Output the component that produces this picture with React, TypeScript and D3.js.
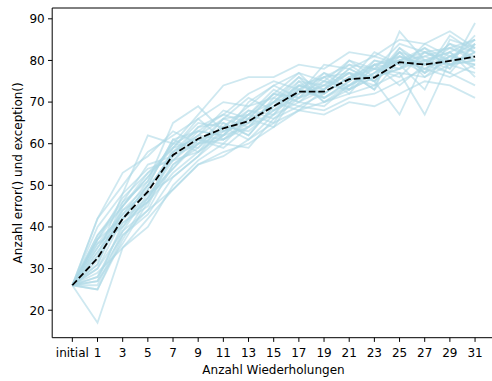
import React from "react";
import * as d3 from "d3";

const categories = ["initial", "1", "3", "5", "7", "9", "11", "13", "15", "17", "19", "21", "23", "25", "27", "29", "31"];

const meanValues = [26, 32.5, 42, 48.5, 57.3, 61.2, 63.7, 65.4, 69, 72.5, 72.5, 75.5, 75.9, 79.6, 79, 79.9, 80.9];

const runs: number[][] = [
  [26, 42, 50, 58, 62, 66, 70, 69, 74, 77, 75, 80, 78, 84, 82, 83, 85],
  [26, 17, 35, 42, 49, 55, 58, 60, 64, 68, 70, 72, 74, 77, 76, 79, 80],
  [26, 38, 45, 52, 60, 63, 62, 67, 70, 74, 72, 76, 79, 80, 78, 81, 83],
  [26, 25, 38, 44, 55, 59, 64, 63, 68, 71, 74, 73, 76, 78, 80, 79, 82],
  [26, 30, 42, 47, 57, 60, 61, 66, 72, 70, 73, 78, 75, 82, 77, 80, 79],
  [26, 35, 44, 50, 56, 62, 66, 64, 67, 73, 71, 75, 80, 79, 83, 78, 84],
  [26, 27, 36, 46, 53, 58, 63, 65, 70, 75, 70, 74, 77, 81, 79, 84, 80],
  [26, 37, 47, 53, 59, 61, 60, 66, 72, 71, 76, 77, 73, 87, 80, 82, 78],
  [26, 28, 40, 49, 58, 64, 65, 62, 69, 72, 74, 79, 78, 76, 82, 80, 86],
  [26, 42, 53, 57, 63, 60, 64, 69, 71, 76, 73, 77, 75, 80, 77, 86, 82],
  [26, 26, 39, 48, 52, 57, 62, 68, 66, 71, 77, 73, 80, 78, 84, 81, 80],
  [26, 33, 41, 45, 58, 62, 61, 64, 68, 74, 72, 76, 74, 83, 79, 77, 84],
  [26, 36, 43, 51, 60, 59, 66, 67, 73, 70, 75, 74, 78, 80, 81, 83, 81],
  [26, 29, 35, 40, 50, 56, 60, 59, 66, 69, 68, 71, 72, 75, 78, 76, 79],
  [26, 38, 46, 55, 57, 64, 67, 65, 70, 72, 79, 78, 81, 79, 73, 85, 83],
  [26, 31, 44, 48, 54, 61, 63, 66, 64, 73, 71, 74, 77, 82, 80, 78, 89],
  [26, 34, 42, 50, 61, 63, 62, 70, 74, 71, 73, 80, 76, 78, 82, 79, 77],
  [26, 25, 37, 47, 56, 58, 65, 62, 69, 73, 76, 72, 79, 74, 79, 84, 82],
  [26, 37, 45, 52, 59, 65, 64, 68, 67, 75, 74, 77, 73, 80, 83, 80, 85],
  [26, 30, 39, 44, 49, 55, 57, 61, 65, 68, 67, 70, 69, 72, 75, 74, 71],
  [26, 40, 48, 62, 60, 67, 74, 76, 76, 79, 78, 82, 81, 85, 84, 87, 83],
  [26, 27, 41, 46, 55, 60, 62, 64, 71, 69, 72, 76, 78, 77, 67, 80, 81],
  [26, 35, 43, 49, 58, 62, 68, 66, 69, 74, 73, 78, 75, 67, 80, 82, 76],
  [26, 32, 46, 51, 65, 69, 63, 67, 72, 77, 71, 75, 79, 81, 78, 81, 84],
  [26, 36, 40, 47, 54, 60, 66, 71, 68, 72, 75, 73, 77, 80, 82, 79, 80],
  [26, 33, 48, 54, 56, 61, 59, 64, 70, 68, 73, 77, 76, 82, 76, 81, 79],
  [26, 28, 38, 43, 52, 57, 64, 61, 67, 70, 69, 74, 79, 78, 81, 79, 82],
  [26, 37, 42, 50, 61, 58, 62, 67, 65, 74, 76, 79, 75, 81, 79, 83, 80],
  [26, 31, 45, 53, 57, 63, 67, 72, 75, 73, 77, 75, 82, 79, 80, 77, 74],
  [26, 34, 42, 46, 59, 66, 61, 65, 70, 76, 70, 73, 76, 83, 77, 82, 85],
];

const yTicks = [20, 30, 40, 50, 60, 70, 80, 90];

const W = 492;
const H = 381;
const left = 52.2;
const top = 8;
const bottom = 337.7;
const step = 25.17;
const right = left + 17.6 * step;

const font = "'DejaVu Sans', sans-serif";

export default function App() {
  const x = d3.scaleLinear().domain([-0.8, categories.length - 1 + 0.8]).range([left, right]);
  const y = d3.scaleLinear().domain([13.4, 92.6]).range([bottom, top]);
  const line = d3
    .line<number>()
    .x((_, i) => x(i))
    .y((d) => y(d));

  return (
    <svg
      width={W}
      height={H}
      style={{ position: "absolute", left: 0, top: 0, background: "#fff" }}
      fontFamily={font}
    >
      <rect x={0} y={0} width={W} height={H} fill="#fff" />
      <g>
        {runs.map((r, i) => (
          <path
            key={i}
            d={line(r) || ""}
            fill="none"
            stroke="#add8e6"
            strokeOpacity={0.6}
            strokeWidth={1.8}
          />
        ))}
      </g>
      <path
        d={line(meanValues) || ""}
        fill="none"
        stroke="#000"
        strokeWidth={1.8}
        strokeDasharray="6.7,2.9"
      />
      <line x1={left} x2={left} y1={top} y2={bottom} stroke="#000" strokeWidth={1} />
      <line x1={left} x2={right} y1={bottom} y2={bottom} stroke="#000" strokeWidth={1} />
      <line x1={left} x2={right} y1={top} y2={top} stroke="#000" strokeWidth={1} />
      {yTicks.map((t) => (
        <g key={t}>
          <line x1={left - 4.2} x2={left} y1={y(t)} y2={y(t)} stroke="#000" strokeWidth={1} />
          <text x={left - 7.5} y={y(t)} dy="0.36em" textAnchor="end" fontSize={12} fill="#000">
            {t}
          </text>
        </g>
      ))}
      {categories.map((c, i) => (
        <g key={c}>
          <line x1={x(i)} x2={x(i)} y1={bottom} y2={bottom + 4.2} stroke="#000" strokeWidth={1} />
          <text x={x(i)} y={356.5} textAnchor="middle" fontSize={12} fill="#000">
            {c}
          </text>
        </g>
      ))}
      <text x={273.5} y={373.5} textAnchor="middle" fontSize={12} fill="#000">
        Anzahl Wiederholungen
      </text>
      <text
        transform={`translate(17.5, ${(top + bottom) / 2}) rotate(-90)`}
        textAnchor="middle"
        dy="0.36em"
        fontSize={12}
        fill="#000"
      >
        Anzahl error() und exception()
      </text>
    </svg>
  );
}
